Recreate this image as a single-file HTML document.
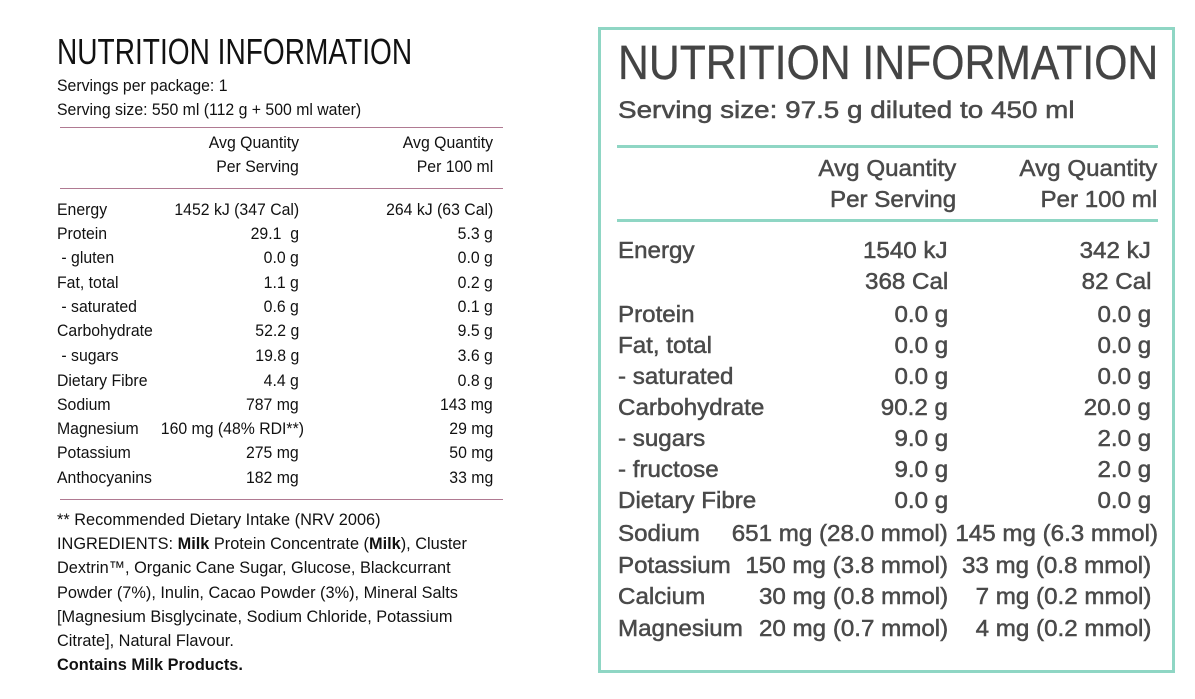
<!DOCTYPE html>
<html><head><meta charset="utf-8"><style>
html,body{margin:0;padding:0;background:#fff;}
body{width:1195px;height:699px;position:relative;overflow:hidden;font-family:"Liberation Sans",sans-serif;}
.l,.r{position:absolute;white-space:nowrap;line-height:1;}
.L .l,.L .r{font-size:17px;color:#111;}
.L .l{transform:scaleX(0.93);transform-origin:left center;}
.L .r{transform:scaleX(0.93);transform-origin:right center;}
.L .n{transform:scaleX(0.96);}
.R .l,.R .r{font-size:23px;color:#4a4a4a;-webkit-text-stroke:0.5px #4a4a4a;}
.R .l{transform:scaleX(1.05);transform-origin:left center;}
.R .r{transform:scaleX(1.05);transform-origin:right center;}
.hl{position:absolute;height:1px;background:#b07a92;}
.tl{position:absolute;height:3px;background:#8fd6c4;}
</style></head><body>
<div class="L">
<div class="l" style="left:57px;top:34px;font-size:36px;transform:scaleX(0.78)">NUTRITION INFORMATION</div>
<div class="l" style="left:57px;top:77px">Servings per package: 1</div>
<div class="l" style="left:57px;top:101px">Serving size: 550 ml (112 g + 500 ml water)</div>
<div class="hl" style="left:60px;top:127px;width:443px"></div>
<div class="r" style="right:896px;top:134px">Avg Quantity</div>
<div class="r" style="right:702px;top:134px">Avg Quantity</div>
<div class="r" style="right:896px;top:158px">Per Serving</div>
<div class="r" style="right:702px;top:158px">Per 100 ml</div>
<div class="hl" style="left:60px;top:188px;width:443px"></div>

<div class="l" style="left:57px;top:201px">Energy</div><div class="r" style="right:896px;top:201px">1452 kJ (347 Cal)</div><div class="r" style="right:702px;top:201px">264 kJ (63 Cal)</div>
<div class="l" style="left:57px;top:225px">Protein</div><div class="r" style="right:896px;top:225px">29.1&nbsp; g</div><div class="r" style="right:702px;top:225px">5.3 g</div>
<div class="l" style="left:57px;top:249px">&nbsp;- gluten</div><div class="r" style="right:896px;top:249px">0.0 g</div><div class="r" style="right:702px;top:249px">0.0 g</div>
<div class="l" style="left:57px;top:274px">Fat, total</div><div class="r" style="right:896px;top:274px">1.1 g</div><div class="r" style="right:702px;top:274px">0.2 g</div>
<div class="l" style="left:57px;top:298px">&nbsp;- saturated</div><div class="r" style="right:896px;top:298px">0.6 g</div><div class="r" style="right:702px;top:298px">0.1 g</div>
<div class="l" style="left:57px;top:322px">Carbohydrate</div><div class="r" style="right:896px;top:322px">52.2 g</div><div class="r" style="right:702px;top:322px">9.5 g</div>
<div class="l" style="left:57px;top:347px">&nbsp;- sugars</div><div class="r" style="right:896px;top:347px">19.8 g</div><div class="r" style="right:702px;top:347px">3.6 g</div>
<div class="l" style="left:57px;top:372px">Dietary Fibre</div><div class="r" style="right:896px;top:372px">4.4 g</div><div class="r" style="right:702px;top:372px">0.8 g</div>
<div class="l" style="left:57px;top:396px">Sodium</div><div class="r" style="right:896px;top:396px">787 mg</div><div class="r" style="right:702px;top:396px">143 mg</div>
<div class="l" style="left:57px;top:420px">Magnesium</div><div class="r" style="right:891px;top:420px">160 mg (48% RDI**)</div><div class="r" style="right:702px;top:420px">29 mg</div>
<div class="l" style="left:57px;top:444px">Potassium</div><div class="r" style="right:896px;top:444px">275 mg</div><div class="r" style="right:702px;top:444px">50 mg</div>
<div class="l" style="left:57px;top:469px">Anthocyanins</div><div class="r" style="right:896px;top:469px">182 mg</div><div class="r" style="right:702px;top:469px">33 mg</div>
<div class="hl" style="left:60px;top:499px;width:443px"></div>

<div class="l n" style="left:57px;top:511px">** Recommended Dietary Intake (NRV 2006)</div>
<div class="l n" style="left:57px;top:535px">INGREDIENTS: <b>Milk</b> Protein Concentrate (<b>Milk</b>), Cluster</div>
<div class="l n" style="left:57px;top:559px">Dextrin™, Organic Cane Sugar, Glucose, Blackcurrant</div>
<div class="l n" style="left:57px;top:584px">Powder (7%), Inulin, Cacao Powder (3%), Mineral Salts</div>
<div class="l n" style="left:57px;top:608px">[Magnesium Bisglycinate, Sodium Chloride, Potassium</div>
<div class="l n" style="left:57px;top:632px">Citrate], Natural Flavour.</div>
<div class="l n" style="left:57px;top:656px;font-weight:bold">Contains Milk Products.</div>
</div>

<div style="position:absolute;left:598px;top:27px;width:571px;height:640px;border:3px solid #8fd6c4;"></div>
<div class="R">
<div class="l" style="left:618px;top:40px;font-size:48px;color:#444;-webkit-text-stroke:0.3px #444;transform:scaleX(0.89)">NUTRITION INFORMATION</div>
<div class="l" style="left:618px;top:99px;font-size:24px;transform:scaleX(1.16)">Serving size: 97.5 g diluted to 450 ml</div>
<div class="tl" style="left:617px;top:145px;width:541px"></div>
<div class="r" style="right:239px;top:157px">Avg Quantity</div>
<div class="r" style="right:38px;top:157px">Avg Quantity</div>
<div class="r" style="right:239px;top:188px">Per Serving</div>
<div class="r" style="right:38px;top:188px">Per 100 ml</div>
<div class="tl" style="left:617px;top:219px;width:541px"></div>

<div class="l" style="left:618px;top:239px">Energy</div><div class="r" style="right:247px;top:239px">1540 kJ</div><div class="r" style="right:44px;top:239px">342 kJ</div>
<div class="r" style="right:247px;top:270px">368 Cal</div><div class="r" style="right:44px;top:270px">82 Cal</div>
<div class="l" style="left:618px;top:303px">Protein</div><div class="r" style="right:247px;top:303px">0.0 g</div><div class="r" style="right:44px;top:303px">0.0 g</div>
<div class="l" style="left:618px;top:334px">Fat, total</div><div class="r" style="right:247px;top:334px">0.0 g</div><div class="r" style="right:44px;top:334px">0.0 g</div>
<div class="l" style="left:618px;top:365px">- saturated</div><div class="r" style="right:247px;top:365px">0.0 g</div><div class="r" style="right:44px;top:365px">0.0 g</div>
<div class="l" style="left:618px;top:396px">Carbohydrate</div><div class="r" style="right:247px;top:396px">90.2 g</div><div class="r" style="right:44px;top:396px">20.0 g</div>
<div class="l" style="left:618px;top:427px">- sugars</div><div class="r" style="right:247px;top:427px">9.0 g</div><div class="r" style="right:44px;top:427px">2.0 g</div>
<div class="l" style="left:618px;top:458px">- fructose</div><div class="r" style="right:247px;top:458px">9.0 g</div><div class="r" style="right:44px;top:458px">2.0 g</div>
<div class="l" style="left:618px;top:489px">Dietary Fibre</div><div class="r" style="right:247px;top:489px">0.0 g</div><div class="r" style="right:44px;top:489px">0.0 g</div>
<div class="l" style="left:618px;top:522px">Sodium</div><div class="r" style="right:247px;top:522px">651 mg (28.0 mmol)</div><div class="r" style="right:37px;top:522px">145 mg (6.3 mmol)</div>
<div class="l" style="left:618px;top:554px">Potassium</div><div class="r" style="right:247px;top:554px">150 mg (3.8 mmol)</div><div class="r" style="right:44px;top:554px">33 mg (0.8 mmol)</div>
<div class="l" style="left:618px;top:585px">Calcium</div><div class="r" style="right:247px;top:585px">30 mg (0.8 mmol)</div><div class="r" style="right:44px;top:585px">7 mg (0.2 mmol)</div>
<div class="l" style="left:618px;top:617px">Magnesium</div><div class="r" style="right:247px;top:617px">20 mg (0.7 mmol)</div><div class="r" style="right:44px;top:617px">4 mg (0.2 mmol)</div>
</div>
</body></html>
